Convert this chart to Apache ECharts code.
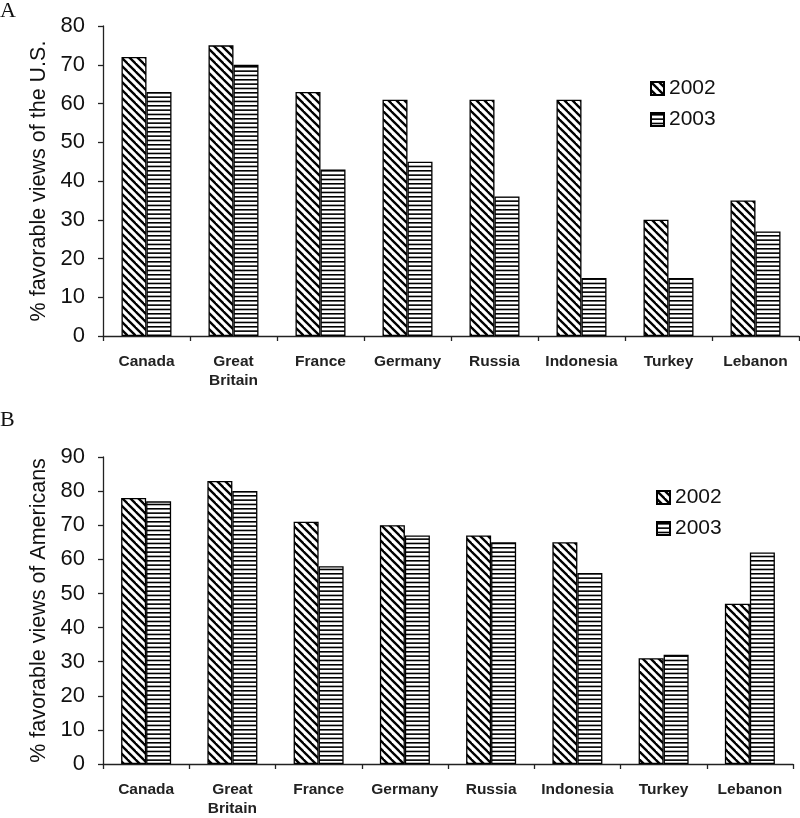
<!DOCTYPE html>
<html>
<head>
<meta charset="utf-8">
<script src="https://cdn.jsdelivr.net/npm/echarts@6/dist/echarts.min.js"></script>
<style>html,body{margin:0;padding:0;background:#fff}#c{width:800px;height:818px}</style>
</head>
<body>
<div id="c"></div>
<script>
const categories = ['Canada', 'Great\nBritain', 'France', 'Germany', 'Russia', 'Indonesia', 'Turkey', 'Lebanon'];
const seriesNames = ['2002', '2003'];
const usViews2002 = [72, 75, 63, 61, 61, 61, 30, 35];
const usViews2003 = [63, 70, 43, 45, 36, 15, 15, 27];
const amViews2002 = [78, 83, 71, 70, 67, 65, 31, 47];
const amViews2003 = [77, 80, 58, 67, 65, 56, 32, 62];
const yTitleA = '% favorable views of the U.S.';
const yTitleB = '% favorable views of Americans';

function diagPattern() {
  const s = 8, c = document.createElement('canvas');
  c.width = s; c.height = s;
  const g = c.getContext('2d');
  g.fillStyle = '#fff'; g.fillRect(0, 0, s, s);
  g.strokeStyle = '#000'; g.lineWidth = 2.3;
  for (const o of [-s, 0, s]) {
    g.beginPath(); g.moveTo(o - 1, -1); g.lineTo(o + s + 1, s + 1); g.stroke();
  }
  return c;
}
function horizPattern() {
  const c = document.createElement('canvas');
  c.width = 4; c.height = 13;
  const g = c.getContext('2d');
  g.fillStyle = '#fff'; g.fillRect(0, 0, 4, 13);
  g.fillStyle = '#000';
  g.fillRect(0, 1, 4, 1.6);
  g.fillRect(0, 5.33, 4, 1.6);
  g.fillRect(0, 9.67, 4, 1.6);
  return c;
}
const pat2002 = { image: diagPattern(), repeat: 'repeat' };
const pat2003 = { image: horizPattern(), repeat: 'repeat' };

const chart = echarts.init(document.getElementById('c'), null, { renderer: 'canvas' });
const axisLine = { show: true, lineStyle: { color: '#222', width: 1.3 } };
const axisTick = { show: true, length: 5, lineStyle: { color: '#222', width: 1.3 } };
function xAx(gi) {
  return {
    type: 'category', gridIndex: gi, data: categories,
    axisLine, axisTick,
    axisLabel: { margin: 16, fontFamily: 'Liberation Sans, Arial', fontWeight: 'bold', fontSize: 15.5, color: '#222', lineHeight: 19, interval: 0 }
  };
}
function yAx(gi, max, name) {
  return {
    type: 'value', gridIndex: gi, min: 0, max: max, interval: 10,
    axisLine, axisTick, splitLine: { show: false },
    axisLabel: { margin: 18, fontFamily: 'Liberation Sans, Arial', fontSize: 22, color: '#111' },
    name: name, nameLocation: 'middle', nameRotate: 90, nameGap: 52,
    nameTextStyle: { fontFamily: 'Liberation Sans, Arial', fontSize: 21.5, color: '#111' }
  };
}
function bar(name, gi, data, pat) {
  return {
    type: 'bar', name: name, xAxisIndex: gi, yAxisIndex: gi, data: data,
    barWidth: 25, barGap: '0%',
    itemStyle: { color: pat, borderColor: '#000', borderWidth: 1.3 },
    emphasis: { disabled: true }, animation: false
  };
}
const legendCommon = {
  orient: 'vertical', icon: 'rect', itemWidth: 13, itemHeight: 13, itemGap: 10,
  textStyle: { fontFamily: 'Liberation Sans, Arial', fontSize: 21, color: '#111', padding: [0, 0, 0, 0] },
  data: seriesNames, selectedMode: false
};
chart.setOption({
  animation: false,
  grid: [
    { left: 103, right: 1, top: 26, height: 310 },
    { left: 103, right: 7, top: 457, height: 310 }
  ],
  xAxis: [xAx(0), xAx(1)],
  yAxis: [yAx(0, 80, yTitleA), yAx(1, 90, yTitleB)],
  legend: [
    Object.assign({ left: 645, top: 73 }, legendCommon),
    Object.assign({ left: 651, top: 482 }, legendCommon)
  ],
  graphic: [
    { type: 'text', left: 0, top: 0, style: { text: 'A', font: '22px "Liberation Serif", serif', fill: '#111' } },
    { type: 'text', left: 0, top: 409, style: { text: 'B', font: '22px "Liberation Serif", serif', fill: '#111' } }
  ],
  series: [
    bar(seriesNames[0], 0, usViews2002, pat2002),
    bar(seriesNames[1], 0, usViews2003, pat2003),
    bar(seriesNames[0], 1, amViews2002, pat2002),
    bar(seriesNames[1], 1, amViews2003, pat2003)
  ]
});
</script>
</body>
</html>
